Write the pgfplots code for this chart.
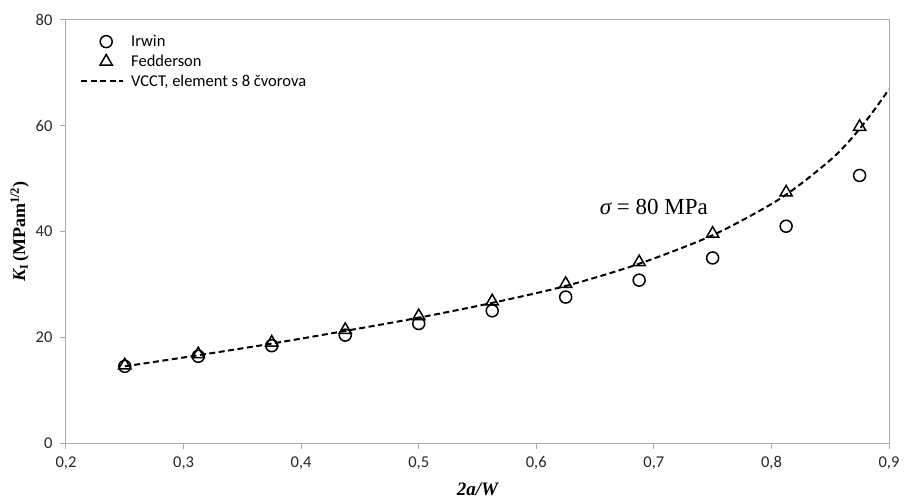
\documentclass[border=0pt]{standalone}
\usepackage{pgfplots}
\pgfplotsset{compat=1.18}
\usepackage{fontspec}
\setmainfont{Carlito}
\newfontfamily\timesfont{Liberation Serif}
\definecolor{axgray}{HTML}{ABABAB}
\pgfplotsset{
  markleg/.style={legend image code/.code={\path[draw=none,fill=none] (0pt,0pt) -- (48pt,0pt);\draw[mark repeat=2,mark phase=2,##1] plot coordinates {(0pt,0pt)(25pt,0pt)(50pt,0pt)};}},
  lineleg/.style={legend image code/.code={\path[draw=none,fill=none] (0pt,0pt) -- (48pt,0pt);\draw[##1] (0pt,0pt) -- (42pt,0pt);}},
}
\begin{document}
\begin{tikzpicture}
\path[use as bounding box] (-66pt,-55pt) rectangle (838pt,443pt);
\begin{axis}[
  at={(0pt,0pt)}, anchor=south west,
  scale only axis, width=823pt, height=423pt,
  xmin=0.2, xmax=0.9, ymin=0, ymax=80,
  xtick={0.2,0.3,0.4,0.5,0.6,0.7,0.8,0.9},
  ytick={0,20,40,60,80},
  xtick pos=bottom, ytick pos=left,
  tick align=outside, major tick length=6pt,
  axis line style={draw=axgray, line width=1pt},
  tick style={draw=axgray, line width=1pt},
  /pgf/number format/assume math mode=true,
  xticklabel style={yshift=-4pt, /pgf/number format/.cd, fixed, fixed zerofill, precision=1, use comma},
  yticklabel style={xshift=-4pt},
  ticklabel style={font=\fontsize{16.5}{18}\selectfont, text=black!85},
  xlabel={\timesfont\bfseries\itshape 2a/W},
  ylabel={\timesfont\bfseries{\itshape K}\raisebox{-0.35ex}{\fontsize{12}{12}\selectfont I}\,(MPam\textsuperscript{1/2})},
  xlabel style={font=\fontsize{19}{20}\selectfont, yshift=-6pt},
  ylabel style={font=\fontsize{18}{20}\selectfont},
  legend style={draw=none, fill=none, at={(0,1)}, anchor=north west, xshift=11pt, yshift=-11pt,
    font=\fontsize{16.5}{18}\selectfont, row sep=3pt},
  legend cell align=left,
]
\addplot[only marks, mark=o, mark size=6pt, mark options={line width=1.5pt, black}, markleg]
coordinates {
(0.25,14.5) (0.3125,16.4) (0.375,18.4) (0.4375,20.4) (0.5,22.6) (0.5625,25.0)
(0.625,27.6) (0.6875,30.8) (0.75,35.0) (0.8125,41.0) (0.875,50.6)
};
\addlegendentry{Irwin}
\addplot[only marks, mark=triangle, mark size=7pt, mark options={line width=1.5pt, black}, markleg]
coordinates {
(0.25,14.7) (0.3125,16.8) (0.375,19.0) (0.4375,21.4) (0.5,24.0) (0.5625,26.8)
(0.625,30.1) (0.6875,34.2) (0.75,39.6) (0.8125,47.4) (0.875,59.8)
};
\addlegendentry{Fedderson}
\addplot[black, line width=2pt, dash pattern=on 6pt off 3.5pt, smooth, no marks, lineleg]
coordinates {
(0.25,14.5) (0.3125,16.6) (0.375,18.8) (0.4375,21.2) (0.5,23.7) (0.5625,26.5)
(0.625,29.7) (0.6875,33.9) (0.75,39.3) (0.8,45.2) (0.825,49.0) (0.85,53.5)
(0.8625,56.2) (0.875,59.4) (0.8875,63.0) (0.9,66.9)
};
\addlegendentry{VCCT, element s 8 čvorova}
\node[font=\timesfont\fontsize{23}{25}\selectfont] at (axis cs:0.70,44.7) {{\itshape σ} = 80 MPa};
\end{axis}
\end{tikzpicture}
\end{document}
